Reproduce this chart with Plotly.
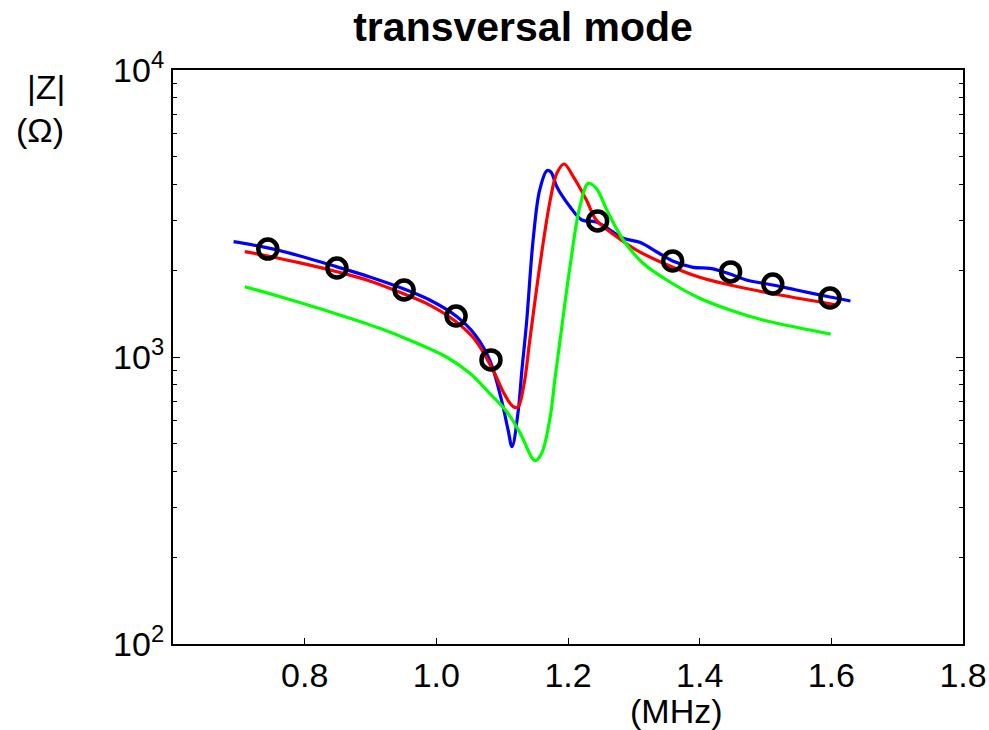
import plotly.graph_objects as go

# Data (frequency in MHz, |Z| in Ohm)
blue_x = [0.692, 0.744, 0.793, 0.849, 0.899, 0.951, 0.990, 1.030, 1.059, 1.081,
          1.099, 1.109, 1.115, 1.124, 1.130, 1.137, 1.147, 1.157, 1.168, 1.174,
          1.183, 1.203, 1.221, 1.243, 1.264, 1.284, 1.309, 1.335, 1.359, 1.390,
          1.416, 1.446, 1.471, 1.511, 1.547, 1.598, 1.629]
blue_y = [2523, 2399, 2249, 2061, 1901, 1726, 1580, 1389, 1194, 977,
          708, 557, 487, 638, 901, 1314, 2556, 3818, 4457, 4413,
          3921, 3340, 3002, 2955, 2770, 2592, 2509, 2322, 2160, 2053,
          2037, 1945, 1855, 1782, 1712, 1618, 1567]

red_x = [0.709, 0.744, 0.793, 0.849, 0.899, 0.951, 0.990, 1.030, 1.059, 1.086,
         1.104, 1.117, 1.124, 1.133, 1.142, 1.157, 1.173, 1.183, 1.194, 1.208,
         1.228, 1.243, 1.274, 1.304, 1.345, 1.400, 1.446, 1.522, 1.605]
red_y = [2328, 2249, 2127, 1982, 1841, 1658, 1517, 1327, 1146, 901,
         738, 671, 670, 799, 1146, 2064, 3524, 4365, 4705, 4249,
         3524, 3000, 2626, 2359, 2121, 1895, 1782, 1644, 1524]

green_x = [0.709, 0.763, 0.838, 0.914, 0.965, 1.016, 1.051, 1.081, 1.107,
           1.127, 1.150, 1.160, 1.173, 1.180, 1.188, 1.203, 1.218, 1.231, 1.243,
           1.259, 1.284, 1.314, 1.350, 1.400, 1.446, 1.496, 1.552, 1.599]
green_y = [1758, 1622, 1438, 1259, 1131, 998, 878, 747, 645,
           545, 435, 462, 619, 832, 1146, 2064, 3340, 4028, 3870,
           3252, 2556, 2121, 1855, 1602, 1458, 1345, 1262, 1202]

meas_x = [0.744, 0.849, 0.951, 1.030, 1.083, 1.245, 1.359, 1.447, 1.511, 1.598]
meas_y = [2377, 2042, 1712, 1389, 977, 2978, 2160, 1979, 1796, 1605]

x_ticks = [0.8, 1.0, 1.2, 1.4, 1.6, 1.8]
x_ticktext = ["0.8", "1.0", "1.2", "1.4", "1.6", "1.8"]
y_ticks = [100, 1000, 10000]
y_ticktext = ["10<sup>2</sup>", "10<sup>3</sup>", "10<sup>4</sup>"]
y_minor = [200, 300, 400, 500, 600, 700, 800, 900,
           2000, 3000, 4000, 5000, 6000, 7000, 8000, 9000]

FONT = "Liberation Sans, Arial, sans-serif"

fig = go.Figure()
fig.add_trace(go.Scatter(x=blue_x, y=blue_y, mode="lines", line=dict(color="#0000ff", width=3.2),
                         line_shape="spline", showlegend=False))
fig.add_trace(go.Scatter(x=red_x, y=red_y, mode="lines", line=dict(color="#ff0000", width=3.2),
                         line_shape="spline", showlegend=False))
fig.add_trace(go.Scatter(x=green_x, y=green_y, mode="lines", line=dict(color="#00ff00", width=3.2),
                         line_shape="spline", showlegend=False))
fig.add_trace(go.Scatter(x=meas_x, y=meas_y, mode="markers",
                         marker=dict(symbol="circle-open", size=19, color="black",
                                     line=dict(width=4.5, color="black")),
                         showlegend=False))

fig.update_layout(
    width=989, height=730,
    margin=dict(l=173, r=26, t=70, b=86, autoexpand=False),
    paper_bgcolor="white", plot_bgcolor="white",
    font=dict(family=FONT, size=34, color="black"),
    title=dict(text="<b>transversal mode</b>", x=523 / 989, xref="container", xanchor="center",
               y=1 - 27 / 730, yref="container", yanchor="middle",
               font=dict(family=FONT, size=41, color="black")),
    xaxis=dict(range=[0.6, 1.8], tickvals=x_ticks, ticktext=x_ticktext,
               ticks="inside", ticklen=6, tickwidth=1, tickcolor="black",
               showline=True, linecolor="black", linewidth=2, mirror=True,
               showgrid=False, zeroline=False, automargin=False,
               tickfont=dict(family=FONT, size=34, color="black")),
    yaxis=dict(type="log", range=[2, 4], tickvals=y_ticks, ticktext=y_ticktext,
               ticks="inside", ticklen=7, tickwidth=1, tickcolor="black",
               showline=True, linecolor="black", linewidth=2, mirror="ticks",
               showgrid=False, zeroline=False, automargin=False,
               minor=dict(tickmode="array", tickvals=y_minor, ticks="inside",
                          ticklen=4, tickwidth=1, tickcolor="black", showgrid=False),
               tickfont=dict(family=FONT, size=34, color="black")),
    annotations=[
        dict(text="|Z|", x=46, y=87, xref="paper", yref="paper", showarrow=False,
             font=dict(family=FONT, size=34, color="black")),
        dict(text="(Ω)", x=40, y=130, xref="paper", yref="paper", showarrow=False,
             font=dict(family=FONT, size=34, color="black")),
        dict(text="(MHz)", x=676, y=711, xref="paper", yref="paper", showarrow=False,
             font=dict(family=FONT, size=34, color="black")),
    ],
)

# convert pixel-placed label positions to paper coordinates
W, H = 989, 730
L, R, T, B = 173, 26, 70, 86
pw, ph = W - L - R, H - T - B
for a in fig.layout.annotations:
    a.x = (a.x - L) / pw
    a.y = 1 - (a.y - T) / ph
    a.xanchor = "center"
    a.yanchor = "middle"

fig.write_html("out.html")
